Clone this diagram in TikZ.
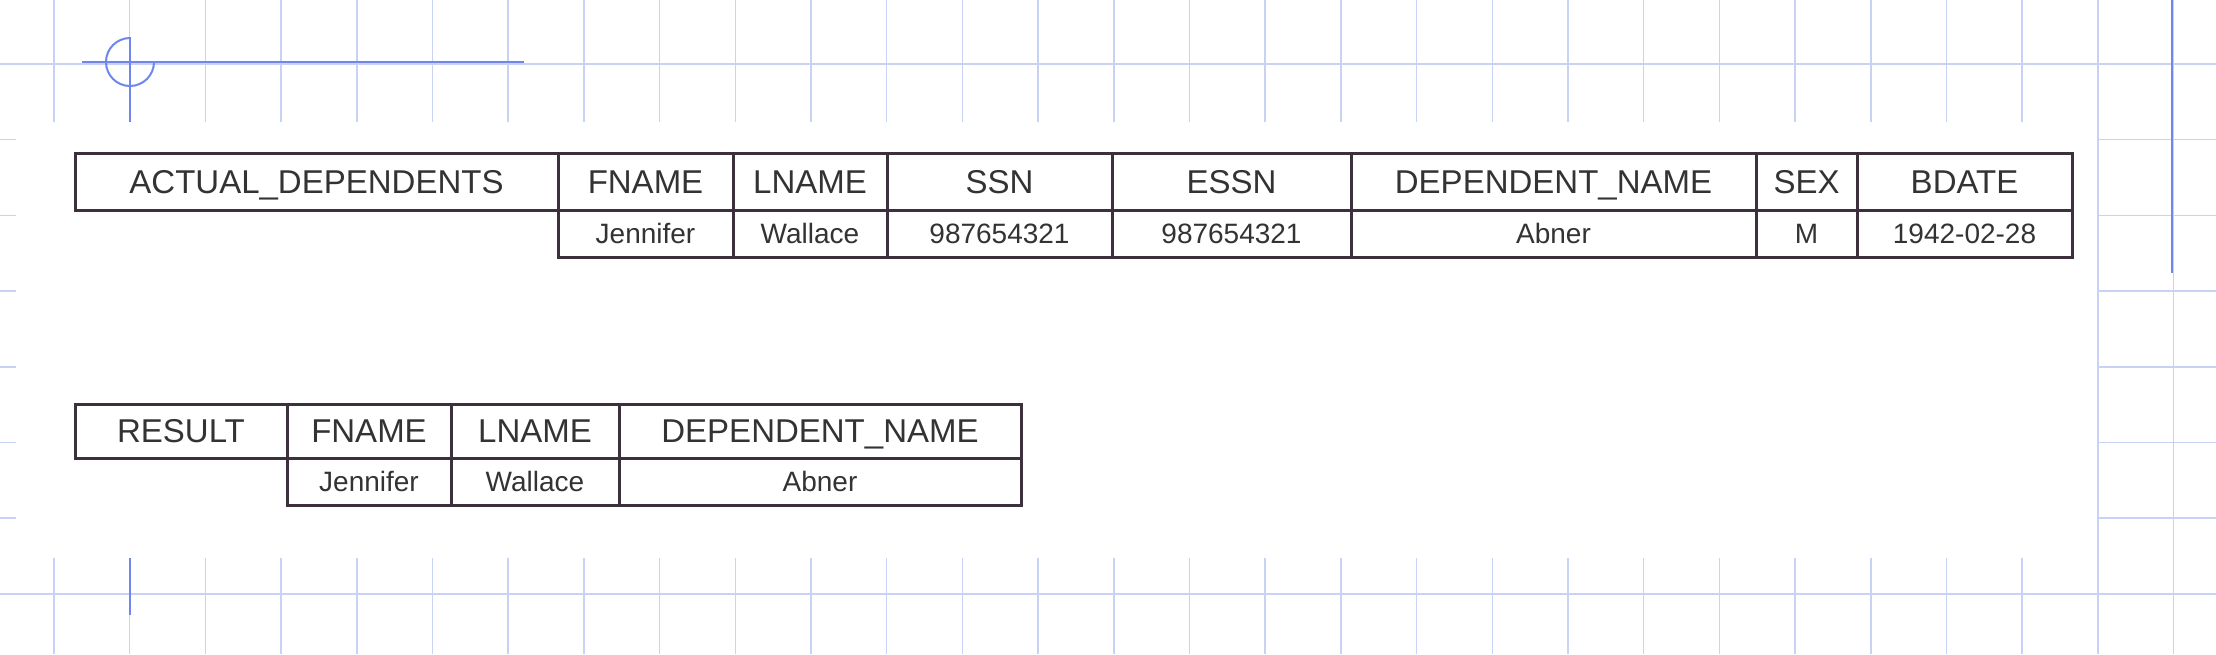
\documentclass[tikz,border=0pt]{standalone}
\usepackage{fontspec}
\setmainfont{Liberation Sans}
\definecolor{gridc}{HTML}{C8D2F6}
\definecolor{markc}{HTML}{6F86EC}
\definecolor{tabc}{HTML}{3B303B}
\definecolor{txtc}{HTML}{333333}
\tikzset{
  cellbox/.style={draw=tabc, line width=3pt, inner sep=0pt, text=txtc, text depth=0pt},
  hcell/.style={cellbox, font=\fontsize{33}{33}\selectfont, text height=23.6pt},
  dcell/.style={cellbox, font=\fontsize{28}{28}\selectfont, text height=20pt},
  gridline/.style={draw=gridc, line width=1.5pt},
  markline/.style={draw=markc, line width=2pt}
}
\newcommand{\cellat}[7]{% style, name, x0, x1, y0, y1, text
  \node[#1, minimum width={(#4-#3)*1pt}, minimum height={(#6-#5)*1pt}] (#2) at ({(#3+#4)/2},{(#5+#6)/2}) {#7};}
\begin{document}
\begin{tikzpicture}[x=1pt,y=-1pt]
\useasboundingbox (0,0) rectangle (2216,654);
% background grid
\foreach \k in {0,...,28} { \draw[gridline] ({54+75.7*\k},0) -- ({54+75.7*\k},654); }
\foreach \k in {0,...,7} { \draw[gridline] (0,{64+75.7*\k}) -- (2216,{64+75.7*\k}); }
% white sheet
\fill[white] (16,122) rectangle (2097,558);
% registration marks
\coordinate (hA) at (82,62); \coordinate (hB) at (524,62);
\coordinate (vA) at (130,37); \coordinate (vB) at (130,122);
\coordinate (cc) at (130,62);
\draw[markline] (hA) -- (hB);
\draw[markline] (vA) -- (vB);
\draw[markline] (cc) ++(0,-24) arc[start angle=270, end angle=0, radius=24];
\coordinate (rA) at (2172,0); \coordinate (rB) at (2172,273);
\draw[markline] (rA) -- (rB);
\coordinate (bA) at (130,558); \coordinate (bB) at (130,615);
\draw[markline] (bA) -- (bB);
% table 1
\cellat{hcell}{a0}{75}{558}{153}{210}{ACTUAL\_DEPENDENTS}
\cellat{hcell}{a1}{558}{733}{153}{210}{FNAME}
\cellat{hcell}{a2}{733}{887}{153}{210}{LNAME}
\cellat{hcell}{a3}{887}{1112}{153}{210}{SSN}
\cellat{hcell}{a4}{1112}{1351}{153}{210}{ESSN}
\cellat{hcell}{a5}{1351}{1756}{153}{210}{DEPENDENT\_NAME}
\cellat{hcell}{a6}{1756}{1857}{153}{210}{SEX}
\cellat{hcell}{a7}{1857}{2072}{153}{210}{BDATE}
\cellat{dcell}{b1}{558}{733}{210}{257}{Jennifer}
\cellat{dcell}{b2}{733}{887}{210}{257}{Wallace}
\cellat{dcell}{b3}{887}{1112}{210}{257}{987654321}
\cellat{dcell}{b4}{1112}{1351}{210}{257}{987654321}
\cellat{dcell}{b5}{1351}{1756}{210}{257}{Abner}
\cellat{dcell}{b6}{1756}{1857}{210}{257}{M}
\cellat{dcell}{b7}{1857}{2072}{210}{257}{1942-02-28}
% table 2
\cellat{hcell}{c0}{75}{287}{404}{458}{RESULT}
\cellat{hcell}{c1}{287}{451}{404}{458}{FNAME}
\cellat{hcell}{c2}{451}{619}{404}{458}{LNAME}
\cellat{hcell}{c3}{619}{1021}{404}{458}{DEPENDENT\_NAME}
\cellat{dcell}{d1}{287}{451}{458}{505}{Jennifer}
\cellat{dcell}{d2}{451}{619}{458}{505}{Wallace}
\cellat{dcell}{d3}{619}{1021}{458}{505}{Abner}
\end{tikzpicture}
\end{document}
